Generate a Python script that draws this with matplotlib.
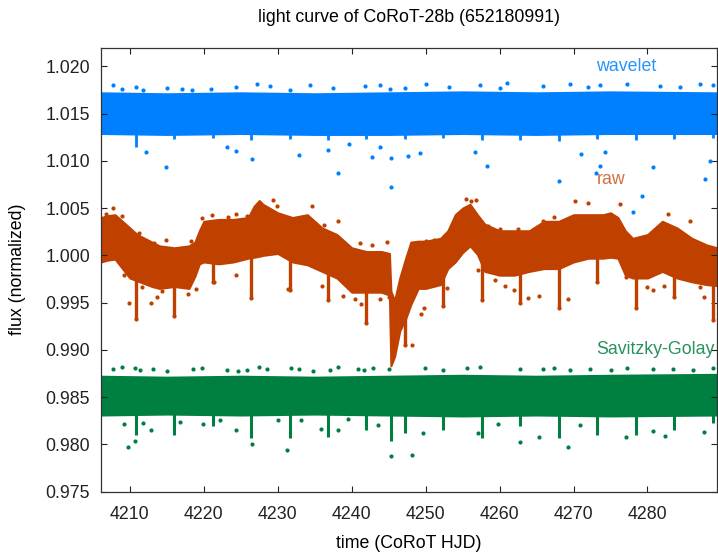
import numpy as np
import matplotlib
matplotlib.use("Agg")
import matplotlib.pyplot as plt

plt.rcParams["font.family"] = ["Liberation Sans", "DejaVu Sans"]
plt.rcParams["font.size"] = 12.8

# colours (gnuplot style)
c_wav = "#0080ff"
c_raw = "#c04000"
c_sg = "#008040"

# ---- raw light curve: envelope of the dense point cloud
raw_t = [4206.1, 4207, 4208, 4209, 4210, 4211, 4212, 4213, 4214, 4216,
         4218, 4218.8, 4219.4, 4220, 4222, 4224, 4226, 4226.8, 4227.5, 4228,
         4230, 4232, 4234, 4236, 4238, 4240, 4242, 4244, 4245.1, 4245.3,
         4245.8, 4246.5, 4247.3, 4248, 4249, 4250, 4252, 4253, 4254, 4255,
         4256, 4257, 4258, 4260, 4262, 4264, 4266, 4268, 4270, 4272,
         4274, 4275, 4276, 4277, 4278, 4280, 4282, 4284, 4286, 4288, 4289.4]
raw_hi = [1.0040, 1.0042, 1.0043, 1.0036, 1.0029, 1.0022, 1.0018, 1.0014, 1.0010, 1.0008,
          1.0010, 1.0014, 1.0026, 1.0036, 1.0038, 1.0038, 1.0040, 1.0052, 1.0058, 1.0054,
          1.0045, 1.0040, 1.0043, 1.0029, 1.0022, 1.0008, 1.0004, 1.0004, 1.0002, 0.9962,
          0.9952, 0.9976, 0.9997, 1.0014, 1.0015, 1.0015, 1.0018, 1.0026, 1.0043, 1.0050,
          1.0054, 1.0043, 1.0033, 1.0026, 1.0026, 1.0026, 1.0036, 1.0036, 1.0043, 1.0043,
          1.0043, 1.0045, 1.0040, 1.0026, 1.0018, 1.0022, 1.0036, 1.0029, 1.0018, 1.0011, 1.0008]
raw_lo = [0.9993, 0.9995, 0.9996, 0.9986, 0.9976, 0.9973, 0.9970, 0.9967, 0.9965, 0.9967,
          0.9965, 0.9978, 0.9991, 0.9993, 0.9991, 0.9993, 0.9997, 0.9998, 0.9999, 1.0000,
          1.0002, 0.9993, 0.9990, 0.9983, 0.9976, 0.9961, 0.9961, 0.9961, 0.9958, 0.9883,
          0.9893, 0.9920, 0.9933, 0.9948, 0.9965, 0.9965, 0.9969, 0.9986, 0.9993, 1.0003,
          1.0010, 1.0001, 0.9983, 0.9979, 0.9979, 0.9983, 0.9986, 0.9986, 0.9993, 0.9997,
          0.9997, 0.9998, 0.9997, 0.9979, 0.9976, 0.9976, 0.9983, 0.9976, 0.9972, 0.9969, 0.9968]

# points sticking out of the raw cloud
raw_out_t = [4206.8, 4207.7, 4209.0, 4211.3, 4213.2, 4214.9, 4218.3, 4219.7, 4221.1, 4223.3,
             4224.4, 4225.8, 4229.3, 4229.9, 4234.7, 4236.2, 4238.2, 4241.1, 4242.7, 4244.8,
             4250.0, 4251.1, 4254.2, 4255.5, 4256.2, 4256.8, 4258.4, 4260.0, 4262.5, 4265.9,
             4267.4, 4268.9, 4270.2, 4272.0, 4276.3, 4282.8, 4285.8,
             4209.2, 4209.9, 4211.7, 4212.9, 4213.7, 4214.3, 4217.8, 4218.9, 4221.4, 4224.4,
             4231.4, 4236.0, 4238.8, 4240.4, 4241.2, 4243.8, 4245.1, 4248.1, 4249.4, 4249.8,
             4252.9, 4257.1, 4259.4, 4260.7, 4261.9, 4263.8, 4265.3, 4269.2, 4277.1, 4280.0,
             4280.8, 4282.3, 4287.1, 4287.6]
raw_out_v = [1.0044, 1.0050, 1.0042, 1.0024, 1.0013, 1.0016, 1.0015, 1.0039, 1.0043, 1.0041,
             1.0044, 1.0042, 1.0059, 1.0052, 1.0052, 1.0032, 1.0036, 1.0013, 1.0011, 1.0014,
             1.0015, 1.0016, 1.0043, 1.0060, 1.0058, 1.0059, 1.0031, 1.0028, 1.0028, 1.0036,
             1.0041, 1.0035, 1.0057, 1.0055, 1.0054, 1.0044, 1.0036,
             0.9979, 0.9950, 0.9966, 0.9950, 0.9956, 0.9962, 0.9959, 0.9964, 0.9972, 0.9979,
             0.9964, 0.9968, 0.9957, 0.9954, 0.9949, 0.9954, 0.9956, 0.9905, 0.9938, 0.9944,
             0.9965, 0.9985, 0.9974, 0.9968, 0.9963, 0.9955, 0.9957, 0.9954, 0.9977, 0.9967,
             0.9963, 0.9968, 0.9966, 0.9956]

# transit times and depth reached in each curve
transit_t = [4210.8, 4216.0, 4221.2, 4226.4, 4231.6, 4236.8, 4242.0, 4247.2,
             4252.4, 4257.6, 4262.8, 4268.0, 4273.2, 4278.4, 4283.6, 4288.8]
raw_dip = [0.9933, 0.9936, 0.9972, 0.9955, 0.9963, 0.9953, 0.9928, 0.9905,
           0.9946, 0.9953, 0.9950, 0.9944, 0.9972, 0.9944, 0.9956, 0.9932]
sg_dip = [0.9810, 0.9810, 0.9819, 0.9807, 0.9807, 0.9808, 0.9815, 0.9812,
          0.9815, 0.9807, 0.9819, 0.9807, 0.9810, 0.9810, 0.9815, 0.9822]
wav_dip = [1.0115, 1.0123, 1.0124, 1.0122, 1.0123, 1.0122, 1.0123, 1.0123,
           1.0124, 1.0122, 1.0122, 1.0121, 1.0123, 1.0122, 1.0123, 1.0124]

# ---- wavelet filtered curve
wav_t = [4206.1, 4215, 4225, 4235, 4245, 4255, 4265, 4275, 4289.4]
wav_hi = [1.0172, 1.0171, 1.0172, 1.0171, 1.0172, 1.0173, 1.0172, 1.0173, 1.0172]
wav_lo = [1.0129, 1.0128, 1.0129, 1.0128, 1.0128, 1.0129, 1.0128, 1.0129, 1.0129]
wav_top_t = [4207.7, 4208.9, 4210.8, 4211.8, 4215.0, 4217.0, 4218.4, 4221.0, 4224.4, 4227.2,
             4228.9, 4231.6, 4234.4, 4237.5, 4241.8, 4243.8, 4245.2, 4247.2, 4250.1, 4253.1,
             4257.4, 4260.1, 4261.0, 4265.9, 4269.5, 4272.0, 4273.6, 4277.2, 4281.7, 4284.4,
             4287.1, 4288.9]
wav_top_v = [1.0180, 1.0176, 1.0178, 1.0175, 1.0177, 1.0176, 1.0175, 1.0176, 1.0178, 1.0181,
             1.0179, 1.0175, 1.0180, 1.0177, 1.0179, 1.0180, 1.0176, 1.0177, 1.0181, 1.0178,
             1.0180, 1.0177, 1.0182, 1.0179, 1.0181, 1.0178, 1.0180, 1.0181, 1.0179, 1.0178,
             1.0181, 1.0180]
wav_out_t = [4212.2, 4214.9, 4223.2, 4224.4, 4226.5, 4232.9, 4236.8, 4238.2, 4239.7, 4242.7,
             4243.8, 4245.3, 4245.3, 4247.6, 4249.2, 4256.7, 4258.3, 4268.1, 4271.0, 4273.1,
             4273.6, 4274.3, 4278.1, 4279.2, 4280.8, 4287.8, 4288.4]
wav_out_v = [1.0109, 1.0094, 1.0115, 1.0110, 1.0102, 1.0106, 1.0112, 1.0087, 1.0118, 1.0104,
             1.0115, 1.0103, 1.0072, 1.0105, 1.0108, 1.0109, 1.0095, 1.0079, 1.0107, 1.0087,
             1.0095, 1.0109, 1.0046, 1.0063, 1.0093, 1.0081, 1.0100]

# ---- Savitzky-Golay filtered curve
sg_t = [4206.1, 4215, 4225, 4235, 4245, 4255, 4265, 4275, 4289.4]
sg_hi = [0.9872, 0.9871, 0.9872, 0.9871, 0.9872, 0.9873, 0.9872, 0.9873, 0.9874]
sg_lo = [0.9831, 0.9832, 0.9831, 0.9832, 0.9831, 0.9830, 0.9831, 0.9830, 0.9831]
sg_top_t = [4207.7, 4209.0, 4210.7, 4211.4, 4213.1, 4215.0, 4218.6, 4219.7, 4223.1, 4224.6,
            4225.8, 4227.4, 4228.5, 4231.8, 4232.9, 4234.8, 4237.1, 4238.2, 4240.9, 4241.6,
            4242.9, 4245.0, 4249.9, 4252.4, 4255.6, 4257.4, 4262.8, 4265.9, 4267.3, 4269.5,
            4272.2, 4275.0, 4277.2, 4280.8, 4283.5, 4286.2, 4288.9]
sg_top_v = [0.9880, 0.9882, 0.9881, 0.9879, 0.9880, 0.9878, 0.9880, 0.9881, 0.9879, 0.9878,
            0.9879, 0.9882, 0.9880, 0.9881, 0.9880, 0.9878, 0.9879, 0.9882, 0.9880, 0.9879,
            0.9881, 0.9880, 0.9881, 0.9879, 0.9881, 0.9882, 0.9880, 0.9880, 0.9881, 0.9879,
            0.9880, 0.9879, 0.9881, 0.9880, 0.9880, 0.9879, 0.9881]
sg_out_t = [4209.2, 4209.8, 4210.7, 4211.8, 4212.9, 4216.8, 4219.9, 4222.2, 4224.4, 4226.5,
            4230.1, 4231.3, 4233.2, 4235.9, 4238.2, 4239.5, 4243.6, 4245.3, 4248.2,
            4249.7, 4257.1, 4259.8, 4262.7, 4265.3, 4269.2, 4270.9, 4277.1, 4280.8, 4282.4,
            4287.6]
sg_out_v = [0.9821, 0.9797, 0.9803, 0.9822, 0.9815, 0.9824, 0.9821, 0.9826, 0.9815, 0.9800,
            0.9826, 0.9794, 0.9826, 0.9816, 0.9815, 0.9827, 0.9820, 0.9788, 0.9789,
            0.9812, 0.9812, 0.9821, 0.9802, 0.9808, 0.9797, 0.9820, 0.9808, 0.9814, 0.9809,
            0.9813]


def draw_band(ax, t, lo, hi, col):
    ax.fill_between(t, lo, hi, color=col, lw=1.5, edgecolor=col)


fig = plt.figure(figsize=(7.18, 5.53), dpi=100)
ax = fig.add_axes([101 / 718, 61.5 / 553, 616 / 718, 444 / 553])

ms = 3.0

# wavelet
draw_band(ax, wav_t, wav_lo, wav_hi, c_wav)
ax.plot(wav_top_t, wav_top_v, "o", color=c_wav, ms=ms, mec="none")
ax.vlines(transit_t, np.interp(transit_t, wav_t, wav_lo) + 0.0003, wav_dip, color=c_wav, lw=2.0)
ax.plot(wav_out_t, wav_out_v, "o", color=c_wav, ms=ms, mec="none")

# raw
draw_band(ax, raw_t, raw_lo, raw_hi, c_raw)
raw_mid = (np.array(raw_lo) + np.array(raw_hi)) / 2
ax.vlines(transit_t, np.interp(transit_t, raw_t, raw_mid), raw_dip, color=c_raw, lw=2.4)
ax.plot(transit_t, raw_dip, "o", color=c_raw, ms=ms, mec="none")
ax.plot(raw_out_t, raw_out_v, "o", color=c_raw, ms=ms, mec="none")

# Savitzky-Golay
draw_band(ax, sg_t, sg_lo, sg_hi, c_sg)
ax.plot(sg_top_t, sg_top_v, "o", color=c_sg, ms=ms, mec="none")
ax.vlines(transit_t, np.interp(transit_t, sg_t, sg_lo) + 0.0003, sg_dip, color=c_sg, lw=2.2)
ax.vlines([4245.3], 0.9850, 0.9803, color=c_sg, lw=2.2)
ax.plot(sg_out_t, sg_out_v, "o", color=c_sg, ms=ms, mec="none")

# labels in the plot, gnuplot key style
ax.text(4273.1, 1.0200, "wavelet", color=c_wav, va="center", ha="left", alpha=0.85)
ax.text(4273.1, 1.0080, "raw", color=c_raw, va="center", ha="left", alpha=0.75)
ax.text(4273.1, 0.9900, "Savitzky-Golay", color=c_sg, va="center", ha="left", alpha=0.85)

ax.set_xlim(4206.1, 4289.4)
ax.set_ylim(0.975, 1.022)
ax.set_xticks(np.arange(4210, 4281, 10))
ax.set_yticks(np.arange(0.975, 1.0201, 0.005))
ax.yaxis.set_major_formatter(matplotlib.ticker.FormatStrFormatter("%.3f"))
ax.tick_params(direction="in", length=4.3, width=0.8, top=True, right=True, colors="#222222")
ax.tick_params(axis="y", pad=8)
ax.tick_params(axis="x", pad=10.5)
for s in ax.spines.values():
    s.set_linewidth(0.9)
    s.set_color("#333333")

ax.set_xlabel("time (CoRoT HJD)", labelpad=8.5)
ax.set_ylabel("flux (normalized)", labelpad=14)
fig.text(409 / 718, 1 - 17 / 553, "light curve of CoRoT-28b (652180991)",
         ha="center", va="center")

fig.savefig("out.png", dpi=100)
